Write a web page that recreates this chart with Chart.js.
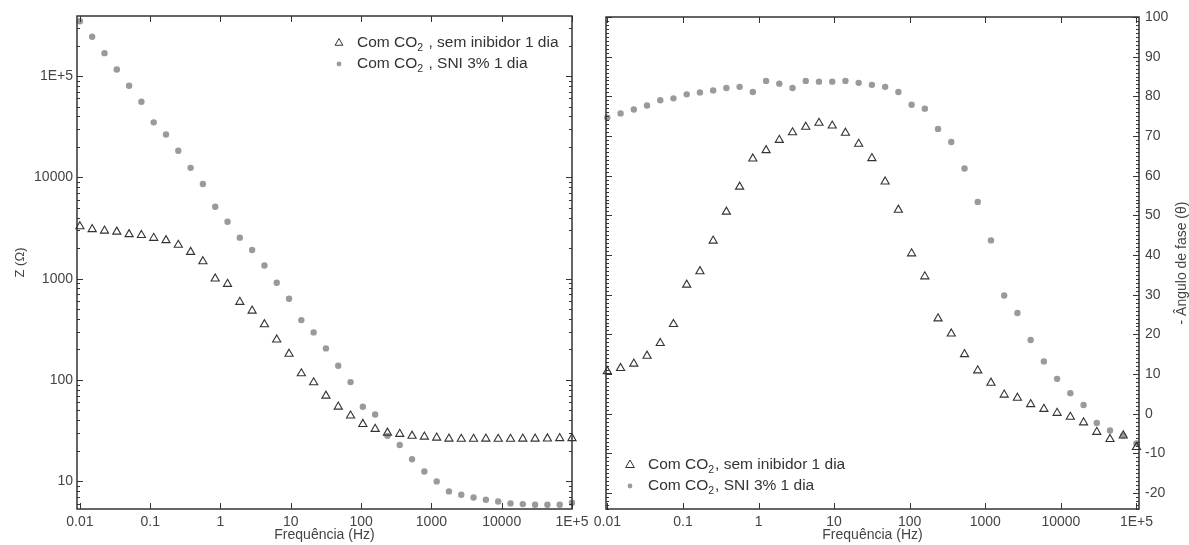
<!DOCTYPE html>
<html>
<head>
<meta charset="utf-8">
<script src="https://cdn.jsdelivr.net/npm/chart.js@4.4.0/dist/chart.umd.min.js"></script>
<style>
  body { margin: 0; background: #fff; }
  #wrap { position: relative; width: 1189px; height: 545px; }
  #wrap canvas { position: absolute; top: 0; }
</style>
</head>
<body>
<div id="wrap">
  <canvas id="modulo" width="590" height="545" style="left:0"></canvas>
  <canvas id="fase" width="599" height="545" style="left:590px"></canvas>
</div>
<script>
// frequências medidas (Hz)
const frequencias = [0.01, 0.01496, 0.02239, 0.0335, 0.05012, 0.07499, 0.1122, 0.1679, 0.2512, 0.3758,
  0.5623, 0.8414, 1.259, 1.884, 2.818, 4.217, 6.31, 9.441, 14.13, 21.13,
  31.62, 47.32, 70.79, 105.9, 158.5, 237.1, 354.8, 530.9, 794.3, 1189,
  1778, 2661, 3981, 5957, 8913, 13340, 19950, 29850, 44670, 66830, 100000];

// |Z| (ohm)
const moduloSemInibidor = [3280, 3070, 2970, 2900, 2740, 2690, 2520, 2390, 2150, 1830,
  1480, 1000, 885, 588, 482, 354, 250, 181, 116, 94.6,
  69.8, 54.4, 44.4, 36.7, 32.8, 30.1, 29.3, 28.1, 27.5, 26.9,
  26.3, 26.2, 26.2, 26.3, 26.2, 26.2, 26.3, 26.3, 26.4, 26.6, 26.6];
const moduloSNI = [347000, 244000, 168000, 116000, 80200, 55700, 34900, 26500, 18300, 12400,
  8590, 5130, 3650, 2540, 1920, 1350, 912, 634, 390, 295,
  205, 138, 95.3, 54.4, 45.7, 28.1, 22.8, 16.5, 12.5, 9.98,
  7.95, 7.36, 6.93, 6.57, 6.33, 6.05, 5.96, 5.87, 5.87, 5.87, 6.14];

// - ângulo de fase (graus)
const faseSemInibidor = [10.7, 11.5, 12.6, 14.6, 17.8, 22.6, 32.5, 35.9, 43.6, 50.9,
  57.2, 64.3, 66.4, 69.0, 70.9, 72.3, 73.3, 72.6, 70.8, 68.0,
  64.4, 58.5, 51.4, 40.4, 34.6, 24.0, 20.2, 15.0, 10.9, 7.8,
  4.8, 4.0, 2.4, 1.2, 0.2, -0.8, -2.2, -4.6, -6.4, -5.5, -8.4];
const faseSNI = [74.65, 75.7, 76.7, 77.7, 79.0, 79.5, 80.5, 81.0, 81.5, 82.1,
  82.4, 81.1, 83.9, 83.2, 82.1, 83.9, 83.7, 83.7, 83.9, 83.4,
  82.9, 82.4, 81.1, 77.9, 76.9, 71.8, 68.5, 61.8, 53.4, 43.7,
  29.8, 25.4, 18.6, 13.2, 8.8, 5.2, 2.2, -2.3, -4.2, -5.5, -7.5];

const ticksFreq = [0.01, 0.1, 1, 10, 100, 1000, 10000, 100000];
const rotulosFreq = ['0.01', '0.1', '1', '10', '100', '1000', '10000', '1E+5'];
const ticksModulo = [10, 100, 1000, 10000, 100000];
const rotulosModulo = ['10', '100', '1000', '10000', '1E+5'];
const ticksFase = [-20, -10, 0, 10, 20, 30, 40, 50, 60, 70, 80, 90, 100];

Chart.defaults.font.family = '"Liberation Sans", Arial, sans-serif';
Chart.defaults.font.size = 14;
Chart.defaults.color = '#444';

function pontos(ys) {
  return frequencias.map((f, i) => ({ x: f, y: ys[i] }));
}

const corTriangulo = '#333';
const corCirculo = '#9a9a9a';

function datasets(ysTri, ysCirc) {
  return [
    { label: 'sem inibidor', data: pontos(ysTri), pointStyle: 'triangle', pointRadius: 4.7,
      borderColor: corTriangulo, backgroundColor: 'rgba(0,0,0,0)', pointBorderWidth: 1.1, showLine: false, clip: false },
    { label: 'SNI 3%', data: pontos(ysCirc), pointStyle: 'circle', pointRadius: 3.2,
      borderColor: corCirculo, backgroundColor: corCirculo, pointBorderWidth: 0, showLine: false, clip: false }
  ];
}

// moldura com marcas internas
const moldura = {
  id: 'moldura',
  afterDraw(chart, args, opts) {
    const { ctx, chartArea: a, scales } = chart;
    const x = scales.x, y = scales.y;
    ctx.save();
    ctx.strokeStyle = '#333';
    ctx.lineWidth = 1;
    const seg = (x1, y1, x2, y2) => { ctx.beginPath(); ctx.moveTo(x1, y1); ctx.lineTo(x2, y2); ctx.stroke(); };
    ticksFreq.forEach(v => {
      const px = Math.round(x.getPixelForValue(v)) + 0.5;
      seg(px, a.bottom, px, a.bottom - 6);
      seg(px, a.top, px, a.top + 6);
    });
    const marcaY = (v, len) => {
      const py = Math.round(y.getPixelForValue(v)) + 0.5;
      seg(a.left, py, a.left + len, py);
      seg(a.right, py, a.right - len, py);
    };
    if (opts.log) {
      for (let d = -1; d <= 6; d++) {
        for (let m = 1; m <= 9; m++) {
          const v = m * Math.pow(10, d);
          if (v >= y.min && v <= y.max) marcaY(v, m === 1 ? 6 : 3);
        }
      }
    } else {
      for (let v = Math.ceil(y.min); v <= y.max; v++) marcaY(v, v % 10 === 0 ? 6 : 3);
    }
    ctx.lineWidth = 1.5;
    ctx.strokeRect(a.left, a.top, a.right - a.left, a.bottom - a.top);
    ctx.restore();
  }
};

// legenda com subscrito
const legendaCO2 = {
  id: 'legendaCO2',
  afterDraw(chart, args, opts) {
    const { ctx } = chart;
    ctx.save();
    ctx.textBaseline = 'middle';
    opts.itens.forEach((it, k) => {
      const cy = opts.y + k * opts.dy;
      ctx.beginPath();
      if (k === 0) {
        const r = opts.r;
        ctx.moveTo(opts.x, cy - r);
        ctx.lineTo(opts.x + r * 0.866, cy + r / 2);
        ctx.lineTo(opts.x - r * 0.866, cy + r / 2);
        ctx.closePath();
        ctx.strokeStyle = corTriangulo;
        ctx.lineWidth = 1;
        ctx.stroke();
      } else {
        ctx.arc(opts.x, cy, 2.4, 0, Math.PI * 2);
        ctx.fillStyle = corCirculo;
        ctx.fill();
      }
      ctx.fillStyle = '#333';
      let tx = opts.x + opts.gap;
      ctx.font = '15.5px "Liberation Sans", Arial, sans-serif';
      ctx.fillText('Com CO', tx, cy);
      tx += ctx.measureText('Com CO').width;
      ctx.font = '10.5px "Liberation Sans", Arial, sans-serif';
      ctx.fillText('2', tx, cy + 5);
      tx += ctx.measureText('2').width + 1;
      ctx.font = '15.5px "Liberation Sans", Arial, sans-serif';
      ctx.fillText(it, tx, cy);
    });
    ctx.restore();
  }
};

const tituloDireito = {
  id: 'tituloDireito',
  afterDraw(chart, args, opts) {
    if (!opts.texto) return;
    const { ctx, chartArea: a } = chart;
    ctx.save();
    ctx.translate(opts.x, (a.top + a.bottom) / 2);
    ctx.rotate(-Math.PI / 2);
    ctx.textAlign = 'center';
    ctx.textBaseline = 'middle';
    ctx.fillStyle = '#444';
    ctx.font = '14px "Liberation Sans", Arial, sans-serif';
    ctx.fillText(opts.texto, 0, 0);
    ctx.restore();
  }
};

const eixoFreq = (min, max) => ({
  type: 'logarithmic', position: 'bottom', min: min, max: max,
  afterBuildTicks: s => { s.ticks = ticksFreq.map(v => ({ value: v })); },
  afterFit: s => { s.height = 36; s.paddingLeft = 0; s.paddingRight = 0; },
  grid: { display: false, drawTicks: false },
  border: { display: false },
  ticks: { autoSkip: false, maxRotation: 0, padding: 5, color: '#444',
    callback: v => rotulosFreq[ticksFreq.indexOf(v)] },
  title: { display: true, text: 'Frequência (Hz)', color: '#444', font: { size: 14 }, padding: { top: 0, bottom: 1 } }
});

new Chart(document.getElementById('modulo'), {
  type: 'scatter',
  data: { datasets: datasets(moduloSemInibidor, moduloSNI) },
  options: {
    responsive: false, animation: false, devicePixelRatio: 1,
    layout: { padding: { top: 16, right: 18, left: 0, bottom: 0 } },
    plugins: {
      legend: { display: false }, tooltip: { enabled: false },
      moldura: { log: true },
      legendaCO2: { x: 339, y: 43, dy: 21, gap: 18, r: 4.5,
        itens: [' , sem inibidor 1 dia', ' , SNI 3% 1 dia'] },
      tituloDireito: {}
    },
    scales: {
      x: eixoFreq(0.0091, 100000),
      y: {
        type: 'logarithmic', min: 5.33, max: 391000,
        afterBuildTicks: s => { s.ticks = ticksModulo.map(v => ({ value: v })); },
        afterFit: s => { s.width = 77; s.paddingTop = 0; s.paddingBottom = 0; },
        grid: { display: false, drawTicks: false },
        border: { display: false },
        ticks: { autoSkip: false, padding: 4, color: '#444',
          callback: v => rotulosModulo[ticksModulo.indexOf(v)] },
        title: { display: true, text: 'Z (Ω)', color: '#444', font: { size: 13 }, padding: { top: 13, bottom: 0 } }
      }
    }
  },
  plugins: [moldura, legendaCO2, tituloDireito]
});

new Chart(document.getElementById('fase'), {
  type: 'scatter',
  data: { datasets: datasets(faseSemInibidor, faseSNI) },
  options: {
    responsive: false, animation: false, devicePixelRatio: 1,
    layout: { padding: { top: 17, right: 0, left: 16, bottom: 0 } },
    plugins: {
      legend: { display: false }, tooltip: { enabled: false },
      moldura: { log: false },
      legendaCO2: { x: 40, y: 465, dy: 21, gap: 18, r: 5,
        itens: [', sem inibidor 1 dia', ', SNI 3% 1 dia'] },
      tituloDireito: { x: 592, texto: '- Ângulo de fase (θ)' }
    },
    scales: {
      x: eixoFreq(0.0096, 108000),
      y: {
        type: 'linear', position: 'right', min: -24, max: 100,
        afterBuildTicks: s => { s.ticks = ticksFase.map(v => ({ value: v })); },
        afterFit: s => { s.width = 50; s.paddingTop = 0; s.paddingBottom = 0; },
        grid: { display: false, drawTicks: false },
        border: { display: false },
        ticks: { autoSkip: false, padding: 6, color: '#444' }
      }
    }
  },
  plugins: [moldura, legendaCO2, tituloDireito]
});
</script>
</body>
</html>
